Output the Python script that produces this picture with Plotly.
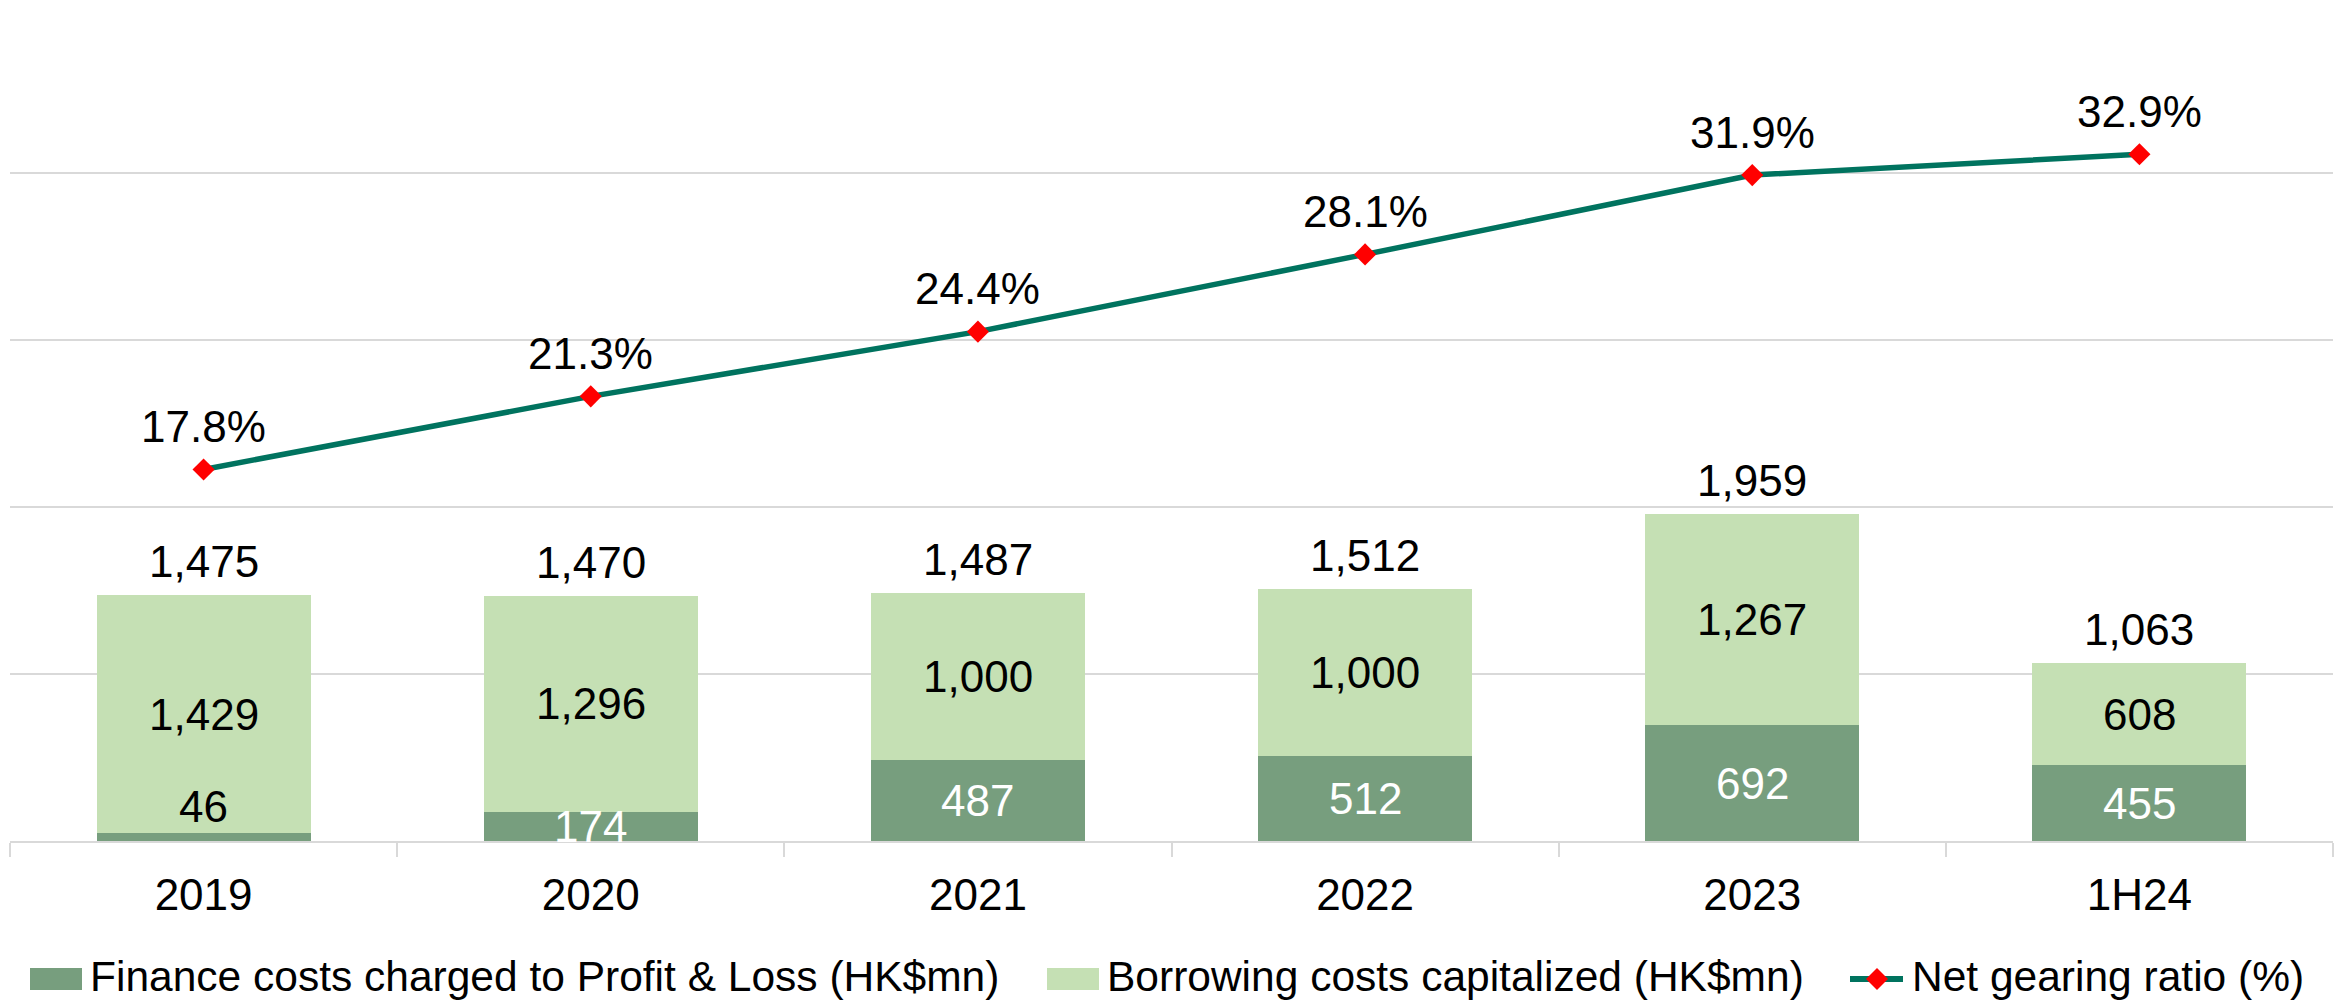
import plotly.graph_objects as go

categories = ["2019", "2020", "2021", "2022", "2023", "1H24"]
finance_costs = [46, 174, 487, 512, 692, 455]
borrowing_capitalized = [1429, 1296, 1000, 1000, 1267, 608]
net_gearing = [17.8, 21.3, 24.4, 28.1, 31.9, 32.9]

series_names = [
    "Finance costs charged to Profit & Loss (HK$mn)",
    "Borrowing costs capitalized (HK$mn)",
    "Net gearing ratio (%)",
]

DARK = "#779E7E"
LIGHT = "#C5E0B4"
LINE = "#00735F"
MARKER = "#FF0000"
GRID = "#D9D9D9"
FONT = "Liberation Sans, Arial, sans-serif"
FS = 44
LEG_FS = 42.5

W, H = 2346, 1003
M_L, M_R, M_T, M_B = 10, 13, 6, 162
PW, PH = W - M_L - M_R, H - M_T - M_B


def px_x(px):
    return (px - M_L) / PW


def px_y(py):
    return (H - M_B - py) / PH


totals = [a + b for a, b in zip(finance_costs, borrowing_capitalized)]

fig = go.Figure()
fig.add_trace(go.Bar(
    x=categories, y=finance_costs, name=series_names[0],
    marker=dict(color=DARK, line=dict(width=0)), yaxis="y",
))
fig.add_trace(go.Bar(
    x=categories, y=borrowing_capitalized, name=series_names[1],
    marker=dict(color=LIGHT, line=dict(width=0)), yaxis="y",
))
fig.add_trace(go.Scatter(
    x=categories, y=net_gearing, name=series_names[2], yaxis="y2",
    mode="lines+markers",
    line=dict(color=LINE, width=5.5),
    marker=dict(symbol="diamond", size=17, color=MARKER, line=dict(width=0)),
))

annotations = []
for i, (fc, bc, tot, ng) in enumerate(zip(finance_costs, borrowing_capitalized, totals, net_gearing)):
    # dark segment label (a thin segment gets its label just above, in black)
    if fc < 100:
        annotations.append(dict(x=i, y=fc, yref="y", text=f"{fc:,}", showarrow=False,
                                yanchor="bottom", font=dict(size=FS, color="black", family=FONT)))
    else:
        annotations.append(dict(x=i, y=fc / 2, yref="y", text=f"{fc:,}", showarrow=False,
                                yanchor="middle", font=dict(size=FS, color="white", family=FONT)))
    # light segment label
    annotations.append(dict(x=i, y=fc + bc / 2, yref="y", text=f"{bc:,}", showarrow=False,
                            yanchor="middle", font=dict(size=FS, color="black", family=FONT)))
    # stack total
    annotations.append(dict(x=i, y=tot, yref="y", text=f"{tot:,}", showarrow=False,
                            yanchor="bottom", yshift=7, font=dict(size=FS, color="black", family=FONT)))
    # gearing ratio
    annotations.append(dict(x=i, y=ng, yref="y2", text=f"{ng:.1f}%", showarrow=False,
                            yanchor="middle", yshift=43, font=dict(size=FS, color="black", family=FONT)))

# Legend drawn below the axis: wide swatches followed by labels
shapes = []
leg_y = 979
swatches = [(30, DARK), (1047, LIGHT)]
text_x = [88, 1105, 1910]
for x0, col in swatches:
    shapes.append(dict(type="rect", xref="paper", yref="paper",
                       x0=px_x(x0), x1=px_x(x0 + 52), y0=px_y(leg_y + 11), y1=px_y(leg_y - 11),
                       fillcolor=col, line=dict(width=0), layer="above"))
shapes.append(dict(type="line", xref="paper", yref="paper",
                   x0=px_x(1850), x1=px_x(1903), y0=px_y(leg_y), y1=px_y(leg_y),
                   line=dict(color=LINE, width=6), layer="above"))
shapes.append(dict(type="path", xref="paper", yref="paper", layer="above",
                   path=(f"M {px_x(1877)},{px_y(leg_y - 11)} L {px_x(1888)},{px_y(leg_y)} "
                         f"L {px_x(1877)},{px_y(leg_y + 11)} L {px_x(1866)},{px_y(leg_y)} Z"),
                   fillcolor=MARKER, line=dict(width=0)))
for tx, name in zip(text_x, series_names):
    annotations.append(dict(xref="paper", yref="paper", x=px_x(tx), y=px_y(leg_y - 3),
                            xanchor="left", yanchor="middle", text=name, showarrow=False,
                            font=dict(size=LEG_FS, color="black", family=FONT)))

fig.update_layout(
    width=W, height=H,
    margin=dict(l=M_L, r=M_R, t=M_T, b=M_B, autoexpand=False),
    paper_bgcolor="white", plot_bgcolor="white",
    barmode="stack", bargap=0.447,
    font=dict(family=FONT, size=FS, color="black"),
    showlegend=False,
    xaxis=dict(
        type="category", categoryorder="array", categoryarray=categories,
        range=[-0.5, len(categories) - 0.5],
        showline=True, linecolor=GRID, linewidth=2,
        ticks="outside", tickson="boundaries", ticklen=14, tickcolor=GRID, tickwidth=2,
        ticklabelstandoff=14,
        showgrid=False, tickfont=dict(size=FS, color="black", family=FONT),
    ),
    yaxis=dict(
        range=[0, 5000.01], dtick=1000, showticklabels=False, showgrid=True,
        gridcolor=GRID, gridwidth=2, zeroline=False, showline=False,
    ),
    yaxis2=dict(
        range=[0, 40], overlaying="y", side="right", showticklabels=False,
        showgrid=False, zeroline=False, showline=False,
    ),
    annotations=annotations,
    shapes=shapes,
)

fig.write_html("out.html")
